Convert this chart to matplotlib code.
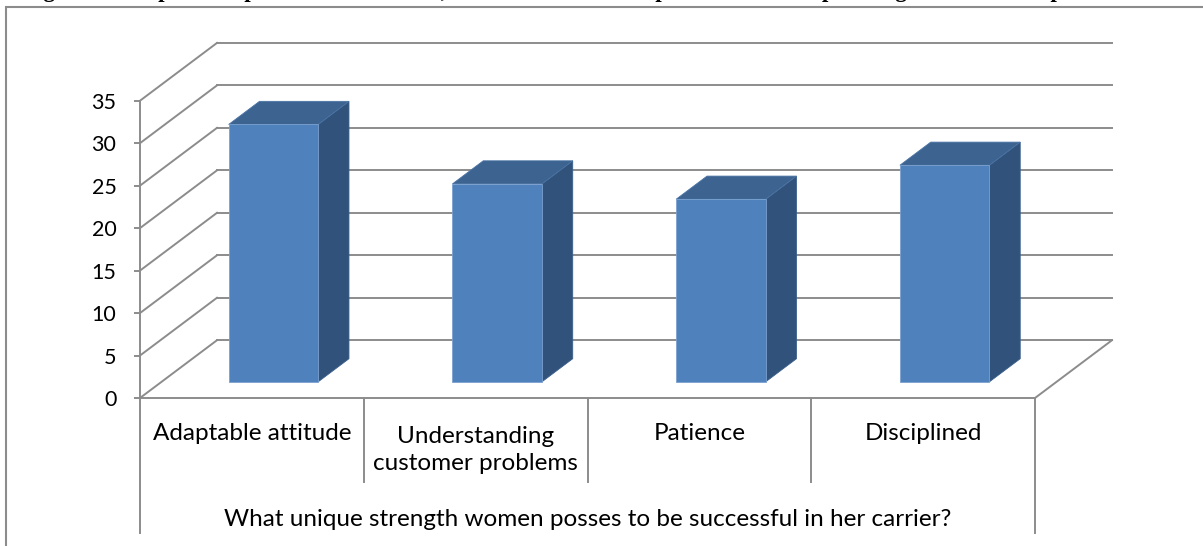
import matplotlib
import matplotlib.pyplot as plt
import matplotlib.transforms as mtransforms
from matplotlib.patches import Polygon, Rectangle

plt.rcParams['font.family'] = ['Lato', 'DejaVu Sans']

# ---------------- data ---------------- #
categories = ['Adaptable attitude', 'Understanding\ncustomer problems', 'Patience', 'Disciplined']
values = [30.3, 23.3, 21.5, 25.5]
yticks = [0, 5, 10, 15, 20, 25, 30, 35]
axis_title = 'What unique strength women posses to be successful in her carrier?'
caption = ('Figure 7: Graphical representation of data, which talent women possess '
           'to be a top management in their profession')

# ---------------- style ---------------- #
grid_c = '#8c8c8c'
front_c = '#4f81bd'
top_c = '#3d6490'
side_c = '#31527a'
lw = 1.4
fs = 17.5

# oblique depth of the wall, in (category, value) units
DX, DY = 0.344, 6.8
def shift(x, y, d):
    return (x + DX * d, y + DY * d)

W, H = 1203, 546
fig = plt.figure(figsize=(W / 100, H / 100), dpi=100)
ax = fig.add_axes([140 / W, 148 / H, 895 / W, 297.3 / H])
ax.set_xlim(0, 4)
ax.set_ylim(0, 35)

# back wall gridlines + side wall diagonals
for v in yticks:
    ax.plot([0, DX], [v, v + DY], color=grid_c, lw=lw, clip_on=False, zorder=1)
    ax.plot([DX, 4 + DX], [v + DY, v + DY], color=grid_c, lw=lw, clip_on=False, zorder=1)
# floor right edge
ax.plot([4, 4 + DX], [0, DY], color=grid_c, lw=lw, clip_on=False, zorder=1)

# 3d bars
d1, d2 = 0.28, 0.68
for i, v in enumerate(values):
    x0, x1 = i + 0.3, i + 0.7
    front = [shift(x0, 0, d1), shift(x1, 0, d1), shift(x1, v, d1), shift(x0, v, d1)]
    top = [shift(x0, v, d1), shift(x1, v, d1), shift(x1, v, d2), shift(x0, v, d2)]
    side = [shift(x1, 0, d1), shift(x1, 0, d2), shift(x1, v, d2), shift(x1, v, d1)]
    ax.add_patch(Polygon(side, closed=True, fc=side_c, ec='#3a5f8c', lw=0.6, clip_on=False, zorder=3))
    ax.add_patch(Polygon(top, closed=True, fc=top_c, ec='#4a74a6', lw=0.6, clip_on=False, zorder=3))
    ax.add_patch(Polygon(front, closed=True, fc=front_c, ec='#7ba0cf', lw=0.6, clip_on=False, zorder=4))

# axes
for s in ['top', 'right']:
    ax.spines[s].set_visible(False)
for s in ['left', 'bottom']:
    ax.spines[s].set_color(grid_c)
    ax.spines[s].set_linewidth(lw)
ax.set_yticks(yticks)
ax.tick_params(axis='y', direction='out', length=4, width=lw, color=grid_c,
               labelsize=15.5, pad=13, labelcolor='black')
ax.set_xticks([])

# category separators below the floor
trans = mtransforms.blended_transform_factory(ax.transData, ax.transAxes)
for x in [1, 2, 3]:
    ax.plot([x, x], [0, -84 / 297.3], color=grid_c, lw=lw, transform=trans, clip_on=False)
for x in [0, 4]:
    ax.plot([x, x], [0, -135 / 297.3], color=grid_c, lw=lw, transform=trans, clip_on=False)

for i, c in enumerate(categories):
    y = -36 / 297.3 if '\n' not in c else -52 / 297.3
    ax.text(i + 0.5, y, c, ha='center', va='center', fontsize=fs,
            transform=trans, linespacing=1.4)
ax.text(2, -121 / 297.3, axis_title, ha='center', va='center', fontsize=fs, transform=trans)

# chart frame
fig.add_artist(Rectangle((5.5 / W, -0.1), 2, 1.1 - 7 / H, transform=fig.transFigure,
                         fill=False, ec=grid_c, lw=1.5))

# caption line running off the top edge
fig.text(23 / W, 1 + 3 / H, caption, fontfamily='Liberation Serif', fontweight='bold',
         fontsize=16.6, va='baseline', ha='left')

fig.savefig('out.png', dpi=100)
